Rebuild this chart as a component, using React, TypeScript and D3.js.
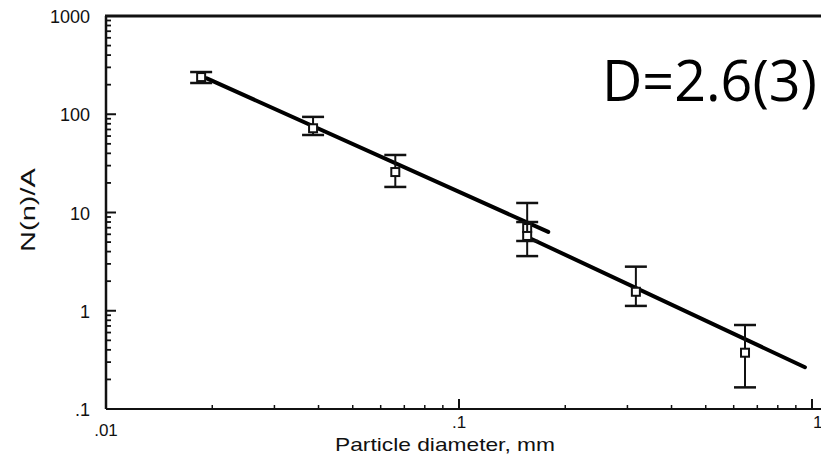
import React from "react";
import * as d3 from "d3";

// Particle counts per unit area vs. particle diameter (log-log), with error bars
const diameters = [0.0186, 0.0386, 0.066, 0.156, 0.156, 0.317, 0.646];
const counts = [239, 72, 25.8, 6.95, 5.77, 1.56, 0.374];
const countHigh = [269, 94, 38.5, 12.5, 8.0, 2.81, 0.716];
const countLow = [208, 61.5, 18.2, 5.13, 3.6, 1.12, 0.166];

// Two power-law fit segments (endpoints in data units)
const fitA = [
  [0.0193, 232],
  [0.179, 6.34],
];
const fitB = [
  [0.156, 5.64],
  [0.955, 0.266],
];

const xTickValues = [0.01, 0.1, 1];
const xTickLabels = [".01", ".1", "1"];
const yTickValues = [0.1, 1, 10, 100, 1000];
const yTickLabels = [".1", "1", "10", "100", "1000"];

const xTitle = "Particle diameter, mm";
const yTitle = "N(n)/A";
const annotation = "D=2.6(3)";

const W = 821;
const H = 462;
const left = 106;
const right = 812;
const top = 16;
const bottom = 409;

export default function App() {
  const x = d3.scaleLog().domain([0.01, 1]).range([left, right]);
  const y = d3.scaleLog().domain([0.1, 1000]).range([bottom, top]);

  const xMinor: number[] = [];
  const yMinor: number[] = [];
  for (const dec of [0.01, 0.1]) for (let k = 2; k <= 9; k++) xMinor.push(dec * k);
  for (const dec of [0.1, 1, 10, 100]) for (let k = 2; k <= 9; k++) yMinor.push(dec * k);

  const line = d3
    .line<number[]>()
    .x((d) => x(d[0]))
    .y((d) => y(d[1]));

  const font = "'Liberation Sans', Arial, Helvetica, sans-serif";
  const cap = 11;
  const sq = 4;

  return (
    <svg
      width={W}
      height={H}
      style={{ position: "absolute", left: 0, top: 0, background: "#fff" }}
    >
      <rect width={W} height={H} fill="#fff" />

      {/* frame: top and left heavy, bottom axis */}
      <line x1={left - 1} x2={W} y1={top} y2={top} stroke="#111" strokeWidth={3} />
      <line x1={left} x2={left} y1={top} y2={bottom} stroke="#111" strokeWidth={2.5} />
      <line x1={left} x2={W} y1={bottom} y2={bottom} stroke="#111" strokeWidth={2} />

      {/* y ticks (inside) */}
      {yTickValues.map((v) => (
        <line key={"ym" + v} x1={left} x2={left + 10} y1={y(v)} y2={y(v)} stroke="#111" strokeWidth={2} />
      ))}
      {yMinor.map((v) => (
        <line key={"yn" + v} x1={left} x2={left + 5} y1={y(v)} y2={y(v)} stroke="#111" strokeWidth={1.8} />
      ))}
      {/* x ticks (inside) */}
      {xTickValues.map((v) => (
        <line key={"xm" + v} x1={x(v)} x2={x(v)} y1={bottom} y2={bottom - 10} stroke="#111" strokeWidth={2} />
      ))}
      {xMinor.map((v) => (
        <line key={"xn" + v} x1={x(v)} x2={x(v)} y1={bottom} y2={bottom - 4} stroke="#111" strokeWidth={1.5} />
      ))}

      {/* tick labels */}
      {yTickValues.map((v, i) => (
        <text
          key={"yl" + v}
          x={90}
          y={y(v) + 7}
          textAnchor="end"
          fontFamily={font}
          fontSize={18}
          fill="#111"
        >
          {yTickLabels[i]}
        </text>
      ))}
      {xTickValues.map((v, i) => (
        <text
          key={"xl" + v}
          x={i === 2 ? 813 : x(v)}
          y={i === 0 ? 436 : 428}
          textAnchor={i === 2 ? "start" : "middle"}
          fontFamily={font}
          fontSize={17}
          fill="#111"
        >
          {xTickLabels[i]}
        </text>
      ))}

      {/* axis titles */}
      <text
        x={445}
        y={451}
        textAnchor="middle"
        fontFamily={font}
        fontSize={19}
        textLength={220}
        lengthAdjust="spacingAndGlyphs"
        fill="#111"
      >
        {xTitle}
      </text>
      <text
        transform="translate(35,210) rotate(-90)"
        textAnchor="middle"
        fontFamily={font}
        fontSize={21}
        textLength={84}
        lengthAdjust="spacingAndGlyphs"
        fill="#111"
      >
        {yTitle}
      </text>

      {/* fit lines */}
      <path d={line(fitA) || ""} fill="none" stroke="#000" strokeWidth={4} strokeLinecap="round" />
      <path d={line(fitB) || ""} fill="none" stroke="#000" strokeWidth={4} strokeLinecap="round" />

      {/* error bars and markers */}
      {diameters.map((d, i) => {
        const cx = x(d);
        return (
          <g key={"p" + i}>
            <line x1={cx} x2={cx} y1={y(countHigh[i])} y2={y(countLow[i])} stroke="#111" strokeWidth={2} />
            <line x1={cx - cap} x2={cx + cap} y1={y(countHigh[i])} y2={y(countHigh[i])} stroke="#111" strokeWidth={2.5} />
            <line x1={cx - cap} x2={cx + cap} y1={y(countLow[i])} y2={y(countLow[i])} stroke="#111" strokeWidth={2.5} />
            <rect
              x={cx - sq}
              y={y(counts[i]) - sq}
              width={sq * 2}
              height={sq * 2}
              fill="#fff"
              stroke="#111"
              strokeWidth={2}
            />
          </g>
        );
      })}

      {/* fractal dimension annotation */}
      <text
        x={602}
        y={101}
        fontFamily="'Open Sans', 'Noto Sans', sans-serif"
        fontSize={57}
        textLength={215}
        lengthAdjust="spacingAndGlyphs"
        fill="#000"
      >
        {annotation}
      </text>
    </svg>
  );
}
